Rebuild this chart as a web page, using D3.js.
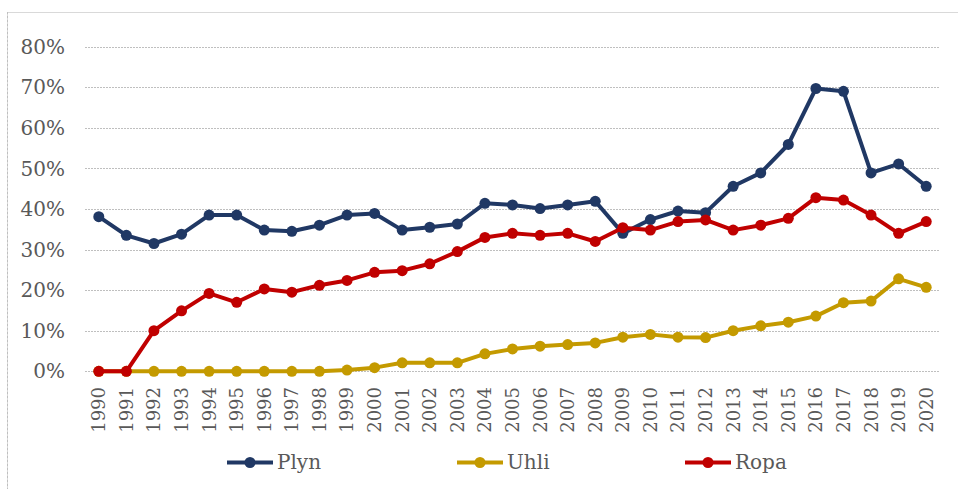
<!DOCTYPE html>
<html><head><meta charset="utf-8">
<script src="https://cdn.jsdelivr.net/npm/d3@7"></script>
<style>body{margin:0;background:#fff}svg{display:block}
svg text{font-family:"DejaVu Serif","Noto Serif",serif;}</style>
</head><body>
<script>
const years = d3.range(1990, 2021).map(String);
const plyn = [38.1,33.5,31.5,33.8,38.5,38.5,34.8,34.5,36.0,38.5,38.9,34.8,35.5,36.3,41.4,41.0,40.1,41.0,41.9,34.0,37.4,39.5,39.1,45.6,48.9,55.9,69.7,69.0,48.9,51.1,45.6];
const uhli = [0,0,0,0,0,0,0,0,0,0.3,0.9,2.1,2.1,2.1,4.3,5.5,6.2,6.6,7.0,8.4,9.1,8.4,8.3,10.0,11.2,12.1,13.6,16.9,17.3,22.8,20.7];
const ropa = [0,0,10.0,14.9,19.2,17.0,20.3,19.5,21.2,22.4,24.4,24.8,26.5,29.5,33.0,34.0,33.5,34.0,32.0,35.4,34.8,36.9,37.3,34.8,36.0,37.7,42.8,42.2,38.5,34.0,36.9];
const yTicks = [0,10,20,30,40,50,60,70,80];
const seriesNames = ["Plyn","Uhli","Ropa"];
const seriesColors = ["#203864","#C49A00","#C00000"];
const seriesData = [plyn, uhli, ropa];

const W = 958, H = 489;
const svg = d3.select("body").append("svg").attr("width", W).attr("height", H);

// outer frame
svg.append("rect").attr("x",7.5).attr("y",12.5).attr("width",W).attr("height",H)
  .attr("fill","none").attr("stroke","#d9d9d9").attr("stroke-width",1);
svg.append("line").attr("x1",7.5).attr("x2",7.5).attr("y1",12).attr("y2",H)
  .attr("stroke","#bfbfbf").attr("stroke-dasharray","2,2");

const x = d3.scalePoint().domain(years).range([85,940]).padding(0.5);
const y = d3.scaleLinear().domain([0,80]).range([371.3,46.7]);

// grid
svg.append("g").selectAll("line").data(yTicks).join("line")
  .attr("x1",85).attr("x2",940)
  .attr("y1",d=>Math.round(y(d))+0.5).attr("y2",d=>Math.round(y(d))+0.5)
  .attr("stroke","#bfbfbf").attr("stroke-width",1).attr("stroke-dasharray","2,1");

// y axis labels
const yAxis = d3.axisLeft(y).tickValues(yTicks).tickFormat(d=>d+"%").tickSize(0).tickPadding(0);
const gy = svg.append("g").attr("transform","translate(65,0)").call(yAxis);
gy.attr("font-family",null).attr("font-size",null);
gy.select(".domain").remove();
gy.selectAll("text").style("font-size","20px").attr("fill","#595959").attr("dy","0.33em");

// x axis labels
const xAxis = d3.axisBottom(x).tickSize(0).tickPadding(0);
const gx = svg.append("g").attr("transform","translate(0,387)").call(xAxis);
gx.attr("font-family",null).attr("font-size",null);
gx.select(".domain").remove();
gx.selectAll("text").style("font-size","18px").attr("fill","#595959")
  .attr("text-anchor","end").attr("transform","rotate(-90)").attr("x",0).attr("y",0).attr("dy","0.33em").attr("dx",0);

// lines
const line = d3.line().x((d,i)=>x(years[i])).y(d=>y(d));
seriesData.forEach((data,k)=>{
  const g = svg.append("g");
  g.append("path").datum(data).attr("d",line).attr("fill","none")
    .attr("stroke",seriesColors[k]).attr("stroke-width",4).attr("stroke-linejoin","round");
  g.selectAll("circle").data(data).join("circle")
    .attr("cx",(d,i)=>x(years[i])).attr("cy",d=>y(d)).attr("r",5.5).attr("fill",seriesColors[k]);
});

// legend
const legX = [227, 457, 685];
const leg = svg.append("g");
seriesNames.forEach((n,k)=>{
  const g = leg.append("g").attr("transform",`translate(${legX[k]},462.5)`);
  g.append("line").attr("x1",0).attr("x2",46).attr("stroke",seriesColors[k]).attr("stroke-width",4);
  g.append("circle").attr("cx",23).attr("r",5.5).attr("fill",seriesColors[k]);
  g.append("text").attr("x",50).attr("dy","0.33em").style("font-size","20px")
    .attr("fill","#595959").text(n);
});
</script>
</body></html>
